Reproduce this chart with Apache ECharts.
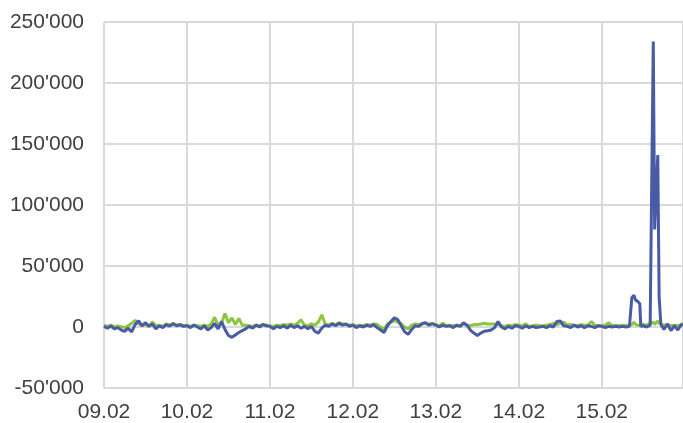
<!DOCTYPE html>
<html><head><meta charset="utf-8">
<script src="https://cdn.jsdelivr.net/npm/echarts@6/dist/echarts.min.js"></script>
<style>html,body{margin:0;padding:0;background:#fff}#c{width:683px;height:423px}</style>
</head><body><div id="c"></div>
<script>
const dayLabels = ['09.02','10.02','11.02','12.02','13.02','14.02','15.02'];
const hours = [0,1,2,3,4,5,6,7,8,9,10,11,12,13,14,15,16,17,18,19,20,21,22,23,
24,25,26,27,28,29,30,31,32,33,34,35,36,37,38,39,40,41,42,43,44,45,46,47,
48,49,50,51,52,53,54,55,56,57,58,59,60,61,62,63,64,65,66,67,68,69,70,71,
72,73,74,75,76,77,78,79,80,81,82,83,84,85,86,87,88,89,90,91,92,93,94,95,
96,97,98,99,100,101,102,103,104,105,106,107,108,109,110,111,112,113,114,115,116,117,118,119,
120,121,122,123,124,125,126,127,128,129,130,131,132,133,134,135,136,137,138,139,140,141,142,143,
144,145,146,147,148,149,150,151,152,
152.5,152.7,153.3,153.8,154.4,155,155.3,156,157,158,158.5,158.9,159.3,160.2,160.6,161.1,162,163,164,165,166,167,167.5];
const blue = [500,-1000,800,-1500,-500,-2500,-3500,-1000,-4000,2000,5000,1000,3500,500,2500,-1500,1000,-500,2000,800,2500,1000,2000,500,
1000,-500,1500,0,-1500,1000,-2500,-500,3000,-1500,4500,-2000,-7000,-8500,-6500,-4500,-3000,-1500,500,-1000,1500,0,2000,1000,
500,-1500,500,-500,1000,-1000,1500,-500,1000,-1000,500,-1500,500,-3500,-5000,-1000,1500,500,2500,1000,3000,1500,2500,500,
1500,-500,1000,0,1500,500,2000,-500,-2500,-4500,1000,4500,7500,6000,1000,-4000,-6000,-2000,1000,500,2500,3500,1500,2500,
1500,0,1500,500,1000,-500,1500,500,3500,1500,-2500,-5000,-7000,-5000,-3500,-3000,-2500,-500,4500,0,-1500,500,-1000,1000,
500,-1000,1000,-500,500,-500,0,500,-500,1000,0,4500,5000,1000,500,-500,1500,0,1000,-500,1000,500,-500,1000,
500,-500,500,0,500,0,500,0,500,
1000,24000,26000,22000,21000,19000,500,1000,0,1500,2000,234000,80000,141000,24000,2000,-2000,2500,-3000,1000,-2500,2000,1500];
const green = [1500,500,1500,0,800,200,-500,1000,3000,5500,2500,1500,2000,1000,4000,1000,1500,500,2500,1500,3000,1500,2000,1000,
1500,500,1500,1000,500,1500,500,2500,8000,1500,3000,11000,3500,7500,2000,7000,1500,1500,1000,500,1500,1000,2000,1500,
1000,500,1500,1000,2000,1500,2500,1500,3000,6000,1500,1000,2500,1500,4000,10000,2500,1500,3000,2000,3500,2500,2000,1500,
2000,1000,1500,1000,2000,1500,2500,2000,0,-2000,2500,4000,5000,4000,2500,0,-1500,1500,2500,2000,3000,3000,2500,3000,
2000,1000,3000,1000,1500,1000,1500,1000,2500,1500,1000,2000,2000,2500,3000,2500,2500,2500,2000,1000,500,1500,1000,2000,
1500,1000,2500,500,1000,1500,1000,1000,1500,2000,3000,2000,3000,4000,1500,2000,1500,1000,2000,1500,1500,4500,1500,1000,
1000,1500,3500,1000,1500,1000,1500,1000,1500,
1500,2000,4000,2000,1500,1500,1500,2000,1500,3000,2000,4000,2000,5000,3000,2500,1500,2000,1000,1500,1000,2000,3000];

const fmt = v => {
  const s = Math.abs(v).toString().replace(/\B(?=(\d{3})+(?!\d))/g, "'");
  return (v < 0 ? '-' : '') + s;
};
const chart = echarts.init(document.getElementById('c'), null, {renderer: 'canvas'});
chart.setOption({
  animation: false,
  backgroundColor: '#fff',
  grid: {left: 104, right: 0, top: 22, bottom: 35, containLabel: false},
  xAxis: {
    type: 'value', min: 0, max: 167.5, interval: 24,
    axisLine: {show: true, lineStyle: {color: '#d9d9d9', width: 2}},
    axisTick: {show: false},
    splitLine: {show: true, lineStyle: {color: '#d9d9d9', width: 2}},
    axisLabel: {
      showMaxLabel: false, margin: 14,
      color: '#404040', fontSize: 21, fontFamily: 'Liberation Sans',
      formatter: v => (v % 24 === 0 && v / 24 < dayLabels.length) ? dayLabels[v / 24] : ''
    }
  },
  yAxis: {
    type: 'value', min: -50000, max: 250000, interval: 50000,
    axisLine: {show: false}, axisTick: {show: false},
    splitLine: {show: true, lineStyle: {color: '#d9d9d9', width: 2}},
    axisLabel: {margin: 20, color: '#404040', fontSize: 21, fontFamily: 'Liberation Sans', formatter: fmt}
  },
  series: [
    {type: 'line', data: hours.map((h, i) => [h, green[i]]), showSymbol: false,
     lineStyle: {color: '#8cc63f', width: 3}, itemStyle: {color: '#8cc63f'}},
    {type: 'line', data: hours.map((h, i) => [h, blue[i]]), showSymbol: false,
     lineStyle: {color: '#4a5ba6', width: 3}, itemStyle: {color: '#4a5ba6'}}
  ]
});
</script></body></html>
